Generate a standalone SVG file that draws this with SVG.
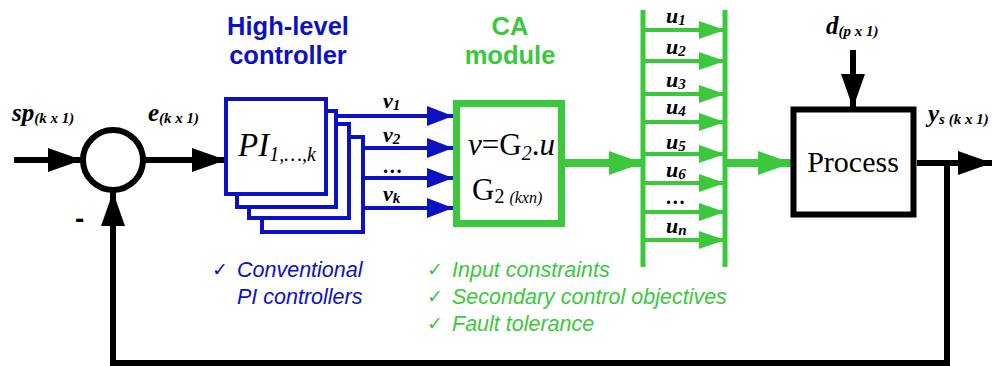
<svg xmlns="http://www.w3.org/2000/svg" width="992" height="366" viewBox="0 0 992 366">
<defs>
<style>
.blk{fill:none;stroke:#000;stroke-width:6}
.bl{fill:none;stroke:#0c12c4;stroke-width:4}
.pib{fill:#fff;stroke:#0c12c4;stroke-width:4}
.gr{fill:none;stroke:#3cc83c}
.lbl{font-family:"Liberation Serif",serif;font-weight:bold;font-style:italic;fill:#000}
.sub{font-size:15px}
.serif{font-family:"Liberation Serif",serif;fill:#000}
.head{font-family:"Liberation Sans",Arial,sans-serif;font-weight:bold;font-size:25.5px;text-anchor:middle}
.list{font-family:"Liberation Sans",Arial,sans-serif;font-style:italic;font-size:21.5px}
.chk{font-family:"DejaVu Sans",sans-serif;font-size:19px}
</style>
<marker id="ab" markerUnits="userSpaceOnUse" markerWidth="36" markerHeight="26" refX="34" refY="12" orient="auto"><path d="M0,0 L34,12 L0,24 Z" fill="#000"/></marker>
<marker id="abl" markerUnits="userSpaceOnUse" markerWidth="28" markerHeight="22" refX="26" refY="10" orient="auto"><path d="M0,0 L26,10 L0,20 Z" fill="#0c12c4"/></marker>
<marker id="ag" markerUnits="userSpaceOnUse" markerWidth="36" markerHeight="26" refX="34" refY="12" orient="auto"><path d="M0,0 L34,12 L0,24 Z" fill="#3cc83c"/></marker>
<marker id="ags" markerUnits="userSpaceOnUse" markerWidth="28" markerHeight="20" refX="26" refY="9" orient="auto"><path d="M0,0 L26,9 L0,18 Z" fill="#3cc83c"/></marker>
</defs>
<rect width="992" height="366" fill="#fff"/>

<g id="connectors">
<line class="blk" x1="14" y1="160" x2="82" y2="160" marker-end="url(#ab)"/>
<line class="blk" x1="145" y1="160" x2="226" y2="160" marker-end="url(#ab)"/>
<polyline class="blk" points="947,163 947,363 113,363 113,192" marker-end="url(#ab)"/>
<line class="blk" x1="917" y1="163" x2="992" y2="163" marker-end="url(#ab)"/>
<line class="blk" x1="853" y1="50" x2="853" y2="108" marker-end="url(#ab)"/>
<line class="bl" x1="336" y1="116" x2="453" y2="116" marker-end="url(#abl)"/>
<line class="bl" x1="349" y1="148" x2="453" y2="148" marker-end="url(#abl)"/>
<line class="bl" x1="363" y1="178" x2="453" y2="178" marker-end="url(#abl)"/>
<line class="bl" x1="363" y1="208" x2="453" y2="208" marker-end="url(#abl)"/>
<line class="gr" stroke-width="8" x1="565" y1="163" x2="643" y2="163" marker-end="url(#ag)"/>
<line class="gr" stroke-width="8" x1="725" y1="163" x2="792" y2="163" marker-end="url(#ag)"/>
</g>

<g id="sum">
<circle cx="113" cy="160" r="30" class="blk"/>
<text x="75" y="228" font-family="Liberation Sans,sans-serif" font-weight="bold" font-size="28">-</text>
</g>

<g id="labels-signals">
<text class="lbl" x="12" y="121" font-size="25">sp<tspan class="sub" dy="2">(k x 1)</tspan></text>
<text class="lbl" x="148" y="121" font-size="25">e<tspan class="sub" dy="2">(k x 1)</tspan></text>
<text class="lbl" x="826" y="34" font-size="25">d<tspan class="sub" dy="2">(p x 1)</tspan></text>
<text class="lbl" x="928" y="122" font-size="25">y<tspan class="sub" dy="2">s (k x 1)</tspan></text>
</g>

<g id="high-level-controller">
<text class="head" x="288" y="35" fill="#0c12c4">High-level</text>
<text class="head" x="288" y="64" fill="#0c12c4">controller</text>
<rect class="pib" x="262" y="137" width="101" height="95"/>
<rect class="pib" x="249" y="124" width="100" height="94"/>
<rect class="pib" x="237" y="111" width="99" height="96"/>
<rect class="pib" x="226" y="99" width="100" height="95"/>
<text class="serif" x="238" y="156" font-size="33" font-style="italic">PI<tspan font-size="20" dy="5">1,…,k</tspan></text>
<text class="lbl" x="383" y="108" font-size="22">v<tspan class="sub" dy="2">1</tspan></text>
<text class="lbl" x="383" y="142" font-size="22">v<tspan class="sub" dy="2">2</tspan></text>
<text class="lbl" x="383" y="173" font-size="20">…</text>
<text class="lbl" x="383" y="201" font-size="22">v<tspan class="sub" dy="2">k</tspan></text>
</g>

<g id="ca-module">
<text class="head" x="510" y="35" fill="#3cc83c">CA</text>
<text class="head" x="510" y="64" fill="#3cc83c">module</text>
<rect class="gr" stroke-width="7" x="456.5" y="103.5" width="105" height="120" fill="#fff"/>
<text class="serif" x="468" y="155" font-size="31"><tspan font-style="italic">v</tspan>=G<tspan font-size="20" font-style="italic" dy="5">2</tspan><tspan dy="-5">.</tspan><tspan font-style="italic">u</tspan></text>
<text class="serif" x="472" y="200" font-size="31">G<tspan font-size="20" dy="3">2 </tspan><tspan font-size="16" font-style="italic">(kxn)</tspan></text>
</g>

<g id="actuator-bus">
<line class="gr" stroke-width="5" x1="643" y1="10" x2="643" y2="267"/>
<line class="gr" stroke-width="5" x1="725" y1="10" x2="725" y2="267"/>
<g class="gr" stroke-width="4">
<line x1="643" y1="30" x2="725" y2="30" marker-end="url(#ags)"/>
<line x1="643" y1="61" x2="725" y2="61" marker-end="url(#ags)"/>
<line x1="643" y1="94" x2="725" y2="94" marker-end="url(#ags)"/>
<line x1="643" y1="122" x2="725" y2="122" marker-end="url(#ags)"/>
<line x1="643" y1="154" x2="725" y2="154" marker-end="url(#ags)"/>
<line x1="643" y1="183" x2="725" y2="183" marker-end="url(#ags)"/>
<line x1="643" y1="212" x2="725" y2="212" marker-end="url(#ags)"/>
<line x1="643" y1="240" x2="725" y2="240" marker-end="url(#ags)"/>
</g>
<text class="lbl" x="666" y="23" font-size="22">u<tspan class="sub" dy="2">1</tspan></text>
<text class="lbl" x="666" y="54" font-size="22">u<tspan class="sub" dy="2">2</tspan></text>
<text class="lbl" x="666" y="87" font-size="22">u<tspan class="sub" dy="2">3</tspan></text>
<text class="lbl" x="666" y="114" font-size="22">u<tspan class="sub" dy="2">4</tspan></text>
<text class="lbl" x="666" y="149" font-size="22">u<tspan class="sub" dy="2">5</tspan></text>
<text class="lbl" x="666" y="177" font-size="22">u<tspan class="sub" dy="2">6</tspan></text>
<text class="lbl" x="666" y="204" font-size="20">…</text>
<text class="lbl" x="666" y="233" font-size="22">u<tspan class="sub" dy="2">n</tspan></text>
</g>

<g id="process">
<rect class="blk" stroke-width="7" x="793.5" y="109.5" width="120" height="105"/>
<text class="serif" x="853" y="172" font-size="30" text-anchor="middle">Process</text>
</g>

<g id="notes">
<text class="chk" x="212" y="276" fill="#0c12c4">✓</text>
<text class="list" x="237" y="277" fill="#0c12c4">Conventional</text>
<text class="list" x="237" y="304" fill="#0c12c4">PI controllers</text>
<text class="chk" x="427" y="276" fill="#3cc83c">✓</text>
<text class="list" x="452" y="277" fill="#3cc83c">Input constraints</text>
<text class="chk" x="427" y="303" fill="#3cc83c">✓</text>
<text class="list" x="452" y="304" fill="#3cc83c">Secondary control objectives</text>
<text class="chk" x="427" y="330" fill="#3cc83c">✓</text>
<text class="list" x="452" y="331" fill="#3cc83c">Fault tolerance</text>
</g>
</svg>
